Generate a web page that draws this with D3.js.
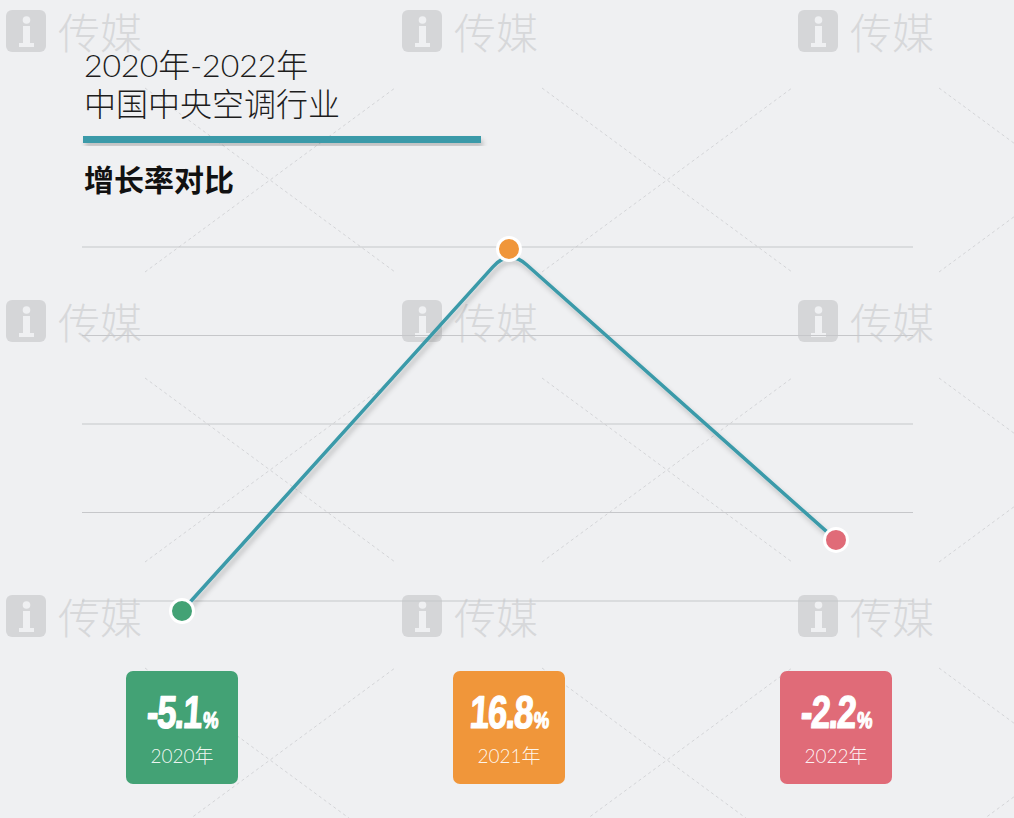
<!DOCTYPE html>
<html><head><meta charset="utf-8">
<script src="https://cdn.jsdelivr.net/npm/d3@7"></script>
<style>
html,body{margin:0;padding:0;background:#eff0f2;}
svg{display:block;}
</style></head>
<body>
<svg id="chart" width="1014" height="818"></svg>
<script>
const years = ["2020年", "2021年", "2022年"];
const values = [-5.1, 16.8, -2.2];
const valueLabels = ["-5.1", "16.8", "-2.2"];
const colors = ["#43a275", "#f0963a", "#e06b78"];
const titleLines = ["2020年-2022年", "中国中央空调行业"];
const subtitle = "增长率对比";
const gridCount = 5;

const svg = d3.select("#chart");
const W = 1014, H = 818;
svg.append("rect").attr("width", W).attr("height", H).attr("fill", "#eff0f2");

const defs = svg.append("defs");
const f = defs.append("filter").attr("id", "sh").attr("x", "-10%").attr("y", "-10%").attr("width", "130%").attr("height", "140%");
f.append("feDropShadow").attr("dx", 2).attr("dy", 4).attr("stdDeviation", 2.5).attr("flood-color", "#000").attr("flood-opacity", 0.22);

// faint dashed X decorations
const deco = svg.append("g").attr("stroke", "#d4d5d8").attr("stroke-width", 1).attr("stroke-dasharray", "3,3");
[-127, 270, 667, 1064].forEach(cx => [-110, 180, 470, 760].forEach(cy => {
  deco.append("line").attr("x1", cx - 125).attr("y1", cy - 92).attr("x2", cx + 125).attr("y2", cy + 92);
  deco.append("line").attr("x1", cx - 125).attr("y1", cy + 92).attr("x2", cx + 125).attr("y2", cy - 92);
}));

// watermarks
const wmX = [6, 402, 798], wmY = [10, 300, 595];
const wm = svg.append("g");
wmX.forEach(x => wmY.forEach(y => {
  const g = wm.append("g").attr("transform", `translate(${x},${y})`);
  g.append("rect").attr("width", 40).attr("height", 42).attr("rx", 6).attr("fill", "#d5d6d8");
  g.append("rect").attr("x", 17).attr("y", 16).attr("width", 7).attr("height", 20).attr("fill", "#eff0f2");
  g.append("rect").attr("x", 13).attr("y", 33).attr("width", 15).attr("height", 4).attr("fill", "#eff0f2");
  g.append("circle").attr("cx", 20.5).attr("cy", 10).attr("r", 3.8).attr("fill", "#eff0f2");
  g.append("text").attr("x", 52).attr("y", 39).attr("font-family", "Noto Sans CJK SC").attr("font-weight", 300)
    .attr("font-size", 42).attr("fill", "#d7d8da").text("传媒");
}));

// titles
svg.append("g").selectAll("text").data(titleLines).join("text")
  .attr("x", 84).attr("y", (d, i) => 77 + i * 39)
  .attr("font-family", "Lato, Noto Sans CJK SC").attr("font-weight", 300).attr("font-size", 32)
  .attr("fill", "#1d1d1d").text(d => d);
svg.append("rect").attr("x", 83).attr("y", 136).attr("width", 398).attr("height", 7)
  .attr("fill", "#3a9aa9").attr("filter", "url(#sh)");
svg.append("text").attr("x", 84).attr("y", 191).attr("font-family", "Noto Sans CJK SC").attr("font-weight", 700)
  .attr("font-size", 30).attr("fill", "#111").text(subtitle);

// scales
const x = d3.scalePoint().domain(years).range([182, 836]).padding(0);
const y = d3.scaleLinear().domain([-5.1, 0, 16.8]).range([611, 486, 249]);
const gy = d3.scaleLinear().domain([0, gridCount - 1]).range([247, 601]);

svg.append("g").selectAll("line").data(d3.range(gridCount)).join("line")
  .attr("x1", 82).attr("x2", 913).attr("y1", d => gy(d)).attr("y2", d => gy(d))
  .attr("stroke", "#c6c7ca").attr("stroke-width", 1.2);

const pts = years.map((yr, i) => [x(yr), y(values[i])]);
function roundedPath(p, r) {
  let s = `M${p[0][0]},${p[0][1]}`;
  for (let i = 1; i < p.length - 1; i++) {
    const [ax, ay] = p[i - 1], [bx, by] = p[i], [cx, cy] = p[i + 1];
    const d1 = Math.hypot(bx - ax, by - ay), d2 = Math.hypot(cx - bx, cy - by);
    const s1 = [bx - (bx - ax) / d1 * r, by - (by - ay) / d1 * r];
    const s2 = [bx + (cx - bx) / d2 * r, by + (cy - by) / d2 * r];
    s += `L${s1[0]},${s1[1]}Q${bx},${by} ${s2[0]},${s2[1]}`;
  }
  const l = p[p.length - 1];
  return s + `L${l[0]},${l[1]}`;
}
svg.append("path").attr("d", roundedPath(pts, 24)).attr("fill", "none")
  .attr("stroke", "#3a9aa9").attr("stroke-width", 3.5).attr("stroke-linejoin", "round")
  .attr("filter", "url(#sh)");

svg.append("g").selectAll("circle").data(values).join("circle")
  .attr("cx", (d, i) => x(years[i])).attr("cy", d => y(d)).attr("r", 11.5)
  .attr("fill", (d, i) => colors[i]).attr("stroke", "#fff").attr("stroke-width", 3);

// value boxes
const bw = 112, bh = 113, by0 = 671;
const boxes = svg.append("g").selectAll("g").data(years).join("g")
  .attr("transform", d => `translate(${x(d)},${by0})`);
boxes.append("rect").attr("x", -bw / 2).attr("y", 0).attr("width", bw).attr("height", bh).attr("rx", 7)
  .attr("fill", (d, i) => colors[i]);
const vt = boxes.append("g").attr("transform", "translate(0,57) scale(0.76,1) skewX(-5)")
  .append("text").attr("text-anchor", "middle")
  .attr("font-family", "Liberation Sans").attr("font-weight", 700)
  .attr("fill", "#fff").attr("stroke", "#fff").attr("stroke-width", 1.2).attr("stroke-linejoin", "round");
vt.append("tspan").attr("font-size", 46).attr("letter-spacing", -2).text((d, i) => valueLabels[i]);
vt.append("tspan").attr("font-size", 23).attr("dx", 3).text("%");
boxes.append("text").attr("text-anchor", "middle").attr("y", 92)
  .attr("font-family", "Lato, Noto Sans CJK SC").attr("font-weight", 300).attr("font-size", 19)
  .attr("fill", "#fff").attr("fill-opacity", 0.92).text(d => d);
</script>
</body></html>
